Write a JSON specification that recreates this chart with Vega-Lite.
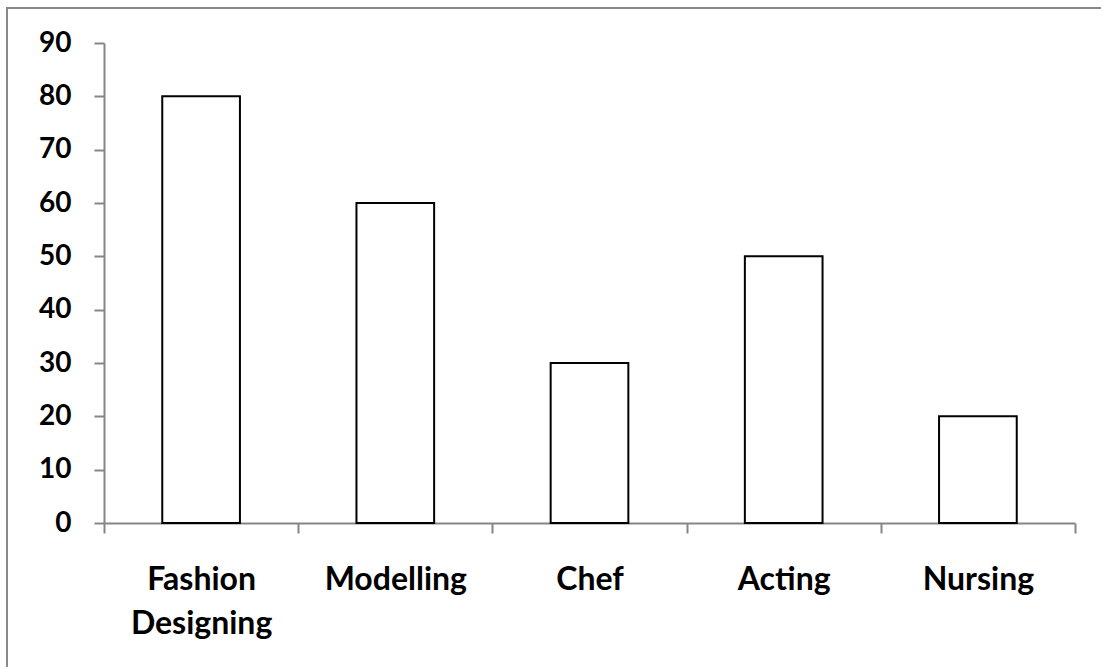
{
  "$schema": "https://vega.github.io/schema/vega-lite/v6.json",
  "width": 1094,
  "height": 659,
  "autosize": {"type": "none"},
  "padding": {"left": 7, "top": 8, "right": 0, "bottom": 0},
  "background": "white",
  "config": {
    "view": {"stroke": "#898989", "strokeWidth": 2, "strokeDash": [1094, 1753, 659]},
    "font": "Lato"
  },
  "data": {
    "values": [
      {"career": "Fashion Designing", "value": 80},
      {"career": "Modelling", "value": 60},
      {"career": "Chef", "value": 30},
      {"career": "Acting", "value": 50},
      {"career": "Nursing", "value": 20}
    ]
  },
  "mark": {"type": "bar", "fill": "white", "stroke": "black", "strokeWidth": 2, "width": {"band": 0.4}},
  "encoding": {
    "x": {
      "field": "career",
      "type": "nominal",
      "sort": null,
      "scale": {"range": [97, 1068], "paddingInner": 0, "paddingOuter": 0},
      "axis": {
        "title": null,
        "labelAngle": 0,
        "offset": -144,
        "tickBand": "extent",
        "domainColor": "#868686",
        "domainWidth": 2,
        "tickColor": "#868686",
        "tickWidth": 2,
        "tickSize": 10,
        "labelFont": "Lato",
        "labelFontWeight": "bold",
        "labelFontSize": 32,
        "labelColor": "black",
        "labelPadding": 31,
        "labelLineHeight": 44,
        "labelExpr": "split(datum.label, ' ')"
      }
    },
    "y": {
      "field": "value",
      "type": "quantitative",
      "scale": {"domain": [0, 90], "range": [515, 35], "nice": false},
      "axis": {
        "title": null,
        "offset": -97,
        "values": [0, 10, 20, 30, 40, 50, 60, 70, 80, 90],
        "grid": false,
        "domainColor": "#868686",
        "domainWidth": 2,
        "tickColor": "#868686",
        "tickWidth": 2,
        "tickSize": 10,
        "labelFont": "Lato",
        "labelFontWeight": "bold",
        "labelFontSize": 28,
        "labelColor": "black",
        "labelPadding": 23
      }
    }
  }
}
